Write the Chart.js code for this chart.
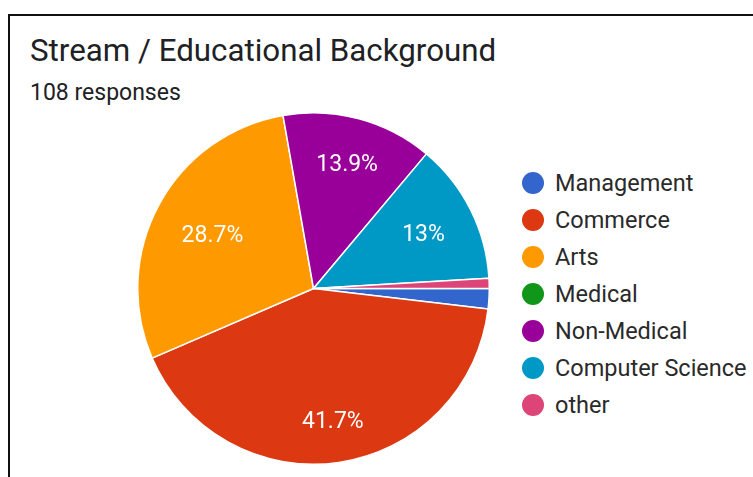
<!DOCTYPE html>
<html>
<head>
<meta charset="utf-8">
<script src="https://cdn.jsdelivr.net/npm/chart.js@4.4.1/dist/chart.umd.min.js"></script>
<style>
  html, body { margin: 0; padding: 0; background: #fff; }
  body { width: 753px; height: 477px; position: relative; overflow: hidden; font-family: Roboto, "Noto Sans", sans-serif; color: #202124; }
  .frame { position: absolute; left: 8px; top: 14px; width: 744px; height: 480px; border-top: 2px solid #111; border-left: 2px solid #111; }
  .title { position: absolute; left: 30px; top: 33px; font-size: 31.3px; line-height: 36px; white-space: nowrap; }
  .sub { position: absolute; left: 30px; top: 79px; font-size: 23px; line-height: 28px; white-space: nowrap; }
  .chart-box { position: absolute; left: 137px; top: 112px; width: 353px; height: 353px; }
  #legend { position: absolute; left: 522px; top: 164px; margin: 0; padding: 0; list-style: none; }
  #legend li { height: 37px; display: flex; align-items: center; font-size: 23.5px; color: #2a2a2a; white-space: nowrap; }
  #legend span.dot { width: 22px; height: 22px; border-radius: 50%; margin-right: 11px; flex: none; }
</style>
</head>
<body>
<div class="frame"></div>
<div class="title">Stream / Educational Background</div>
<div class="sub">108 responses</div>
<div class="chart-box"><canvas id="pie"></canvas></div>
<ul id="legend"></ul>

<script>
// jawaban per jurusan (total 108)
const streams = ["Management", "Commerce", "Arts", "Medical", "Non-Medical", "Computer Science", "other"];
const counts = [2, 45, 31, 0, 15, 14, 1];
const sliceColors = ["#3366cc", "#dc3912", "#ff9900", "#109618", "#990099", "#0099c6", "#dd4477"];

const total = counts.reduce((a, b) => a + b, 0);

// legend manual di kanan
const legendEl = document.getElementById("legend");
streams.forEach((name, i) => {
  const li = document.createElement("li");
  li.innerHTML = '<span class="dot" style="background:' + sliceColors[i] + '"></span>' + name;
  legendEl.appendChild(li);
});

// tulis persen di dalam slice yang cukup besar,
// kotak teks ditarik ke dalam supaya tidak nempel ke tepi
const sliceLabels = {
  id: "sliceLabels",
  afterDatasetsDraw(chart) {
    const ctx = chart.ctx;
    const meta = chart.getDatasetMeta(0);
    const fs = 23;
    ctx.save();
    ctx.fillStyle = "#ffffff";
    ctx.font = fs + "px Roboto, sans-serif";
    ctx.textAlign = "center";
    ctx.textBaseline = "alphabetic";
    meta.data.forEach((arc, i) => {
      const share = counts[i] / total;
      if (share < 0.05) return;
      const p = arc.getProps(["x", "y", "startAngle", "endAngle", "outerRadius"], true);
      const mid = (p.startAngle + p.endAngle) / 2;
      const txt = parseFloat((share * 100).toFixed(1)) + "%";
      const hw = ctx.measureText(txt).width / 2;
      const hh = fs * 0.36;
      const dx = Math.cos(mid), dy = Math.sin(mid);
      const r = p.outerRadius * 0.83 - (hw * Math.abs(dx) + hh * Math.abs(dy));
      ctx.fillText(txt, p.x + dx * r, p.y + dy * r + fs * 0.355);
    });
    ctx.restore();
  }
};

new Chart(document.getElementById("pie"), {
  type: "pie",
  data: {
    labels: streams,
    datasets: [{
      data: counts,
      backgroundColor: sliceColors,
      borderColor: "#ffffff",
      borderWidth: 1.5
    }]
  },
  options: {
    responsive: true,
    maintainAspectRatio: false,
    animation: false,
    rotation: 90,
    layout: { padding: 0 },
    plugins: {
      legend: { display: false },
      tooltip: { enabled: false }
    }
  },
  plugins: [sliceLabels]
});
</script>
</body>
</html>
